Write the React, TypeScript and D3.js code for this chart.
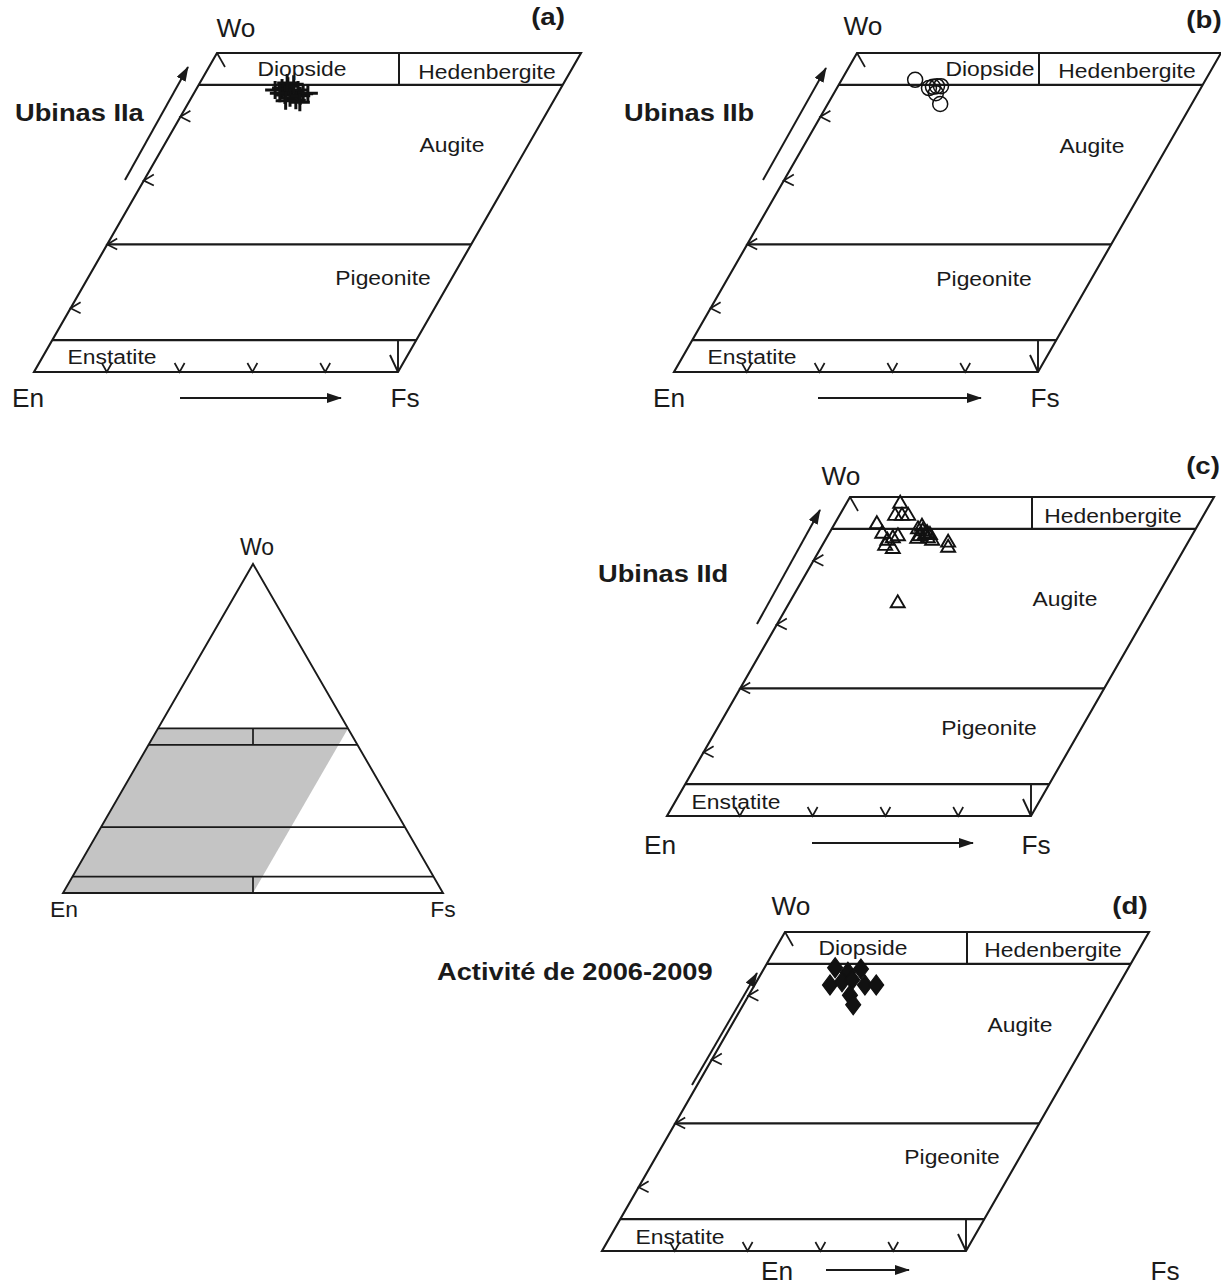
import * as d3 from "d3";
import React, { useEffect, useRef } from "react";

// pyroxene analyses: wo = Wo %, fs = Fs / (En + Fs) %
const ubinasIIa = [
  { wo: 44.2, fs: 21.8 }, { wo: 44.5, fs: 23.4 }, { wo: 44.8, fs: 24.7 }, { wo: 43.9, fs: 26.7 },
  { wo: 44.2, fs: 28.1 }, { wo: 43.6, fs: 30.1 }, { wo: 43.4, fs: 25.3 }, { wo: 43.0, fs: 27.1 },
  { wo: 42.6, fs: 29.1 }, { wo: 43.3, fs: 29.6 }, { wo: 43.7, fs: 31.3 }, { wo: 43.7, fs: 23.6 },
  { wo: 45.1, fs: 26.0 }, { wo: 42.3, fs: 30.5 }, { wo: 45.3, fs: 24.0 }, { wo: 42.5, fs: 26.4 },
];
const ubinasIIb = [
  { wo: 45.8, fs: 20.2 }, { wo: 44.5, fs: 25.3 }, { wo: 44.7, fs: 26.2 }, { wo: 44.8, fs: 27.2 },
  { wo: 44.8, fs: 28.3 }, { wo: 43.7, fs: 28.0 }, { wo: 42.0, fs: 30.9 },
];
const ubinasIId = [
  { wo: 49.1, fs: 14.7 }, { wo: 47.2, fs: 15.2 }, { wo: 47.2, fs: 17.1 }, { wo: 47.2, fs: 18.8 },
  { wo: 45.9, fs: 11.5 }, { wo: 44.4, fs: 14.5 }, { wo: 43.3, fs: 17.0 }, { wo: 43.7, fs: 18.1 },
  { wo: 44.0, fs: 19.2 }, { wo: 42.0, fs: 19.8 }, { wo: 42.5, fs: 17.2 }, { wo: 45.1, fs: 23.6 },
  { wo: 44.8, fs: 25.2 }, { wo: 44.5, fs: 26.7 }, { wo: 44.0, fs: 25.2 }, { wo: 43.7, fs: 27.7 },
  { wo: 43.3, fs: 29.3 }, { wo: 43.6, fs: 24.9 }, { wo: 43.0, fs: 34.0 }, { wo: 42.2, fs: 34.8 },
  { wo: 33.5, fs: 29.7 }, { wo: 45.5, fs: 24.3 }, { wo: 44.2, fs: 26.4 }, { wo: 44.2, fs: 27.8 },
];
const activite2006 = [
  { wo: 44.4, fs: 19.4 }, { wo: 43.7, fs: 23.6 }, { wo: 44.2, fs: 26.7 }, { wo: 41.7, fs: 20.7 },
  { wo: 42.2, fs: 23.5 }, { wo: 42.5, fs: 26.0 }, { wo: 41.7, fs: 30.3 }, { wo: 41.7, fs: 33.4 },
  { wo: 40.1, fs: 27.8 }, { wo: 38.6, fs: 30.2 },
];

// field boundaries (Wo %) and tick positions
const fieldBounds = [5, 20, 45];
const woTicks = [10, 20, 30, 40];
const fsTicks = [20, 40, 60, 80];
const triBounds = [50, 45, 20, 5];

const FONT = "'Liberation Sans', Arial, Helvetica, sans-serif";
const INK = "#1a1a1a";

const panels = [
  {
    en: [34, 372], data: ubinasIIa, marker: "cross", letter: "(a)", title: "Ubinas IIa",
    titlePos: [15, 113], letterPos: [548, 17], woPos: [236, 28], enPos: [28, 398], fsPos: [405, 398],
    arrowUp: [[125, 180], [188, 67]], arrowRight: [[180, 398], [341, 398]],
    labels: [["Diopside", 302, 69], ["Hedenbergite", 487, 72], ["Augite", 452, 145], ["Pigeonite", 383, 278], ["Enstatite", 112, 357]],
  },
  {
    en: [674, 372], data: ubinasIIb, marker: "circle", letter: "(b)", title: "Ubinas IIb",
    titlePos: [624, 113], letterPos: [1204, 20], woPos: [863, 26], enPos: [669, 398], fsPos: [1045, 398],
    arrowUp: [[763, 180], [826, 68]], arrowRight: [[818, 398], [981, 398]],
    labels: [["Diopside", 990, 69], ["Hedenbergite", 1127, 71], ["Augite", 1092, 146], ["Pigeonite", 984, 279], ["Enstatite", 752, 357]],
  },
  {
    en: [667, 816], data: ubinasIId, marker: "triangle", letter: "(c)", title: "Ubinas IId",
    titlePos: [598, 574], letterPos: [1203, 466], woPos: [841, 476], enPos: [660, 845], fsPos: [1036, 845],
    arrowUp: [[757, 624], [820, 510]], arrowRight: [[812, 843], [973, 843]],
    labels: [["Hedenbergite", 1113, 516], ["Augite", 1065, 599], ["Pigeonite", 989, 728], ["Enstatite", 736, 802]],
  },
  {
    en: [602, 1251], data: activite2006, marker: "diamond", letter: "(d)", title: "Activité de 2006-2009",
    titlePos: [437, 972], letterPos: [1130, 906], woPos: [791, 906], enPos: [777, 1271], fsPos: [1165, 1271],
    arrowUp: [[692, 1085], [757, 973]], arrowRight: [[826, 1270], [909, 1270]],
    labels: [["Diopside", 863, 948], ["Hedenbergite", 1053, 950], ["Augite", 1020, 1025], ["Pigeonite", 952, 1157], ["Enstatite", 680, 1237]],
  },
];

// quadrilateral drawn as a 60° parallelogram
const fsScale = d3.scaleLinear().domain([0, 100]).range([0, 364]);
const woScale = d3.scaleLinear().domain([0, 50]).range([0, -319]);
const shear = d3.scaleLinear().domain([0, 50]).range([0, 183]);
const proj = (fs: number, wo: number): [number, number] => [fsScale(fs) + shear(wo), woScale(wo)];

function addText(g: any, str: string, x: number, y: number, size: number, opt: any = {}) {
  g.append("text")
    .attr("transform", `translate(${x},${y}) scale(${opt.sx ?? 1},1)`)
    .attr("text-anchor", opt.anchor ?? "middle")
    .attr("dominant-baseline", "central")
    .attr("fill", INK)
    .style("font-family", FONT)
    .style("font-size", `${size}px`)
    .style("font-weight", opt.bold ? "bold" : "normal")
    .text(str);
}

function drawPanel(svg: any, p: any) {
  const g = svg.append("g").attr("transform", `translate(${p.en[0]},${p.en[1]})`);
  const line = d3.line();

  // outline and field boundaries
  const corners = [proj(0, 0), proj(100, 0), proj(100, 50), proj(0, 50)];
  g.append("path").attr("d", line(corners) + "Z").attr("fill", "none").attr("stroke", INK).attr("stroke-width", 2.1);
  g.selectAll(".bound").data(fieldBounds).join("path")
    .attr("d", (wo: number) => line([proj(0, wo), proj(100, wo)]))
    .attr("fill", "none").attr("stroke", INK).attr("stroke-width", 2.1);

  // Di | Hd divider
  const top = proj(50, 50);
  g.append("path").attr("d", line([top, [top[0], woScale(45)]])).attr("stroke", INK).attr("stroke-width", 2);

  // ticks
  g.selectAll(".wt").data(woTicks).join("path")
    .attr("d", (wo: number) => { const [x, y] = proj(0, wo); return `M${x + 10},${y - 6}L${x},${y}L${x + 10},${y + 5}`; })
    .attr("fill", "none").attr("stroke", INK).attr("stroke-width", 1.7);
  g.selectAll(".ft").data(fsTicks).join("path")
    .attr("d", (fs: number) => { const [x, y] = proj(fs, 0); return `M${x - 5},${y - 9}L${x},${y}L${x + 5},${y - 9}`; })
    .attr("fill", "none").attr("stroke", INK).attr("stroke-width", 1.7);
  const [cx, cy] = proj(0, 50);
  g.append("path").attr("d", `M${cx},${cy}L${cx + 8},${cy + 14}`).attr("stroke", INK).attr("stroke-width", 1.7);
  const [fx, fy] = proj(100, 0);
  g.append("path").attr("d", `M${fx},${woScale(5)}L${fx},${fy}M${fx - 8},${fy - 17}L${fx},${fy}`)
    .attr("fill", "none").attr("stroke", INK).attr("stroke-width", 1.9);

  // data
  const pts = g.append("g");
  const sel = pts.selectAll("path").data(p.data).join("path")
    .attr("transform", (d: any) => `translate(${proj(d.fs, d.wo)})`);
  if (p.marker === "cross") {
    sel.attr("d", "M-10,0H10M0,-9V9").attr("stroke", "#111").attr("stroke-width", 3).attr("fill", "none");
  } else if (p.marker === "circle") {
    sel.attr("d", d3.arc()({ innerRadius: 0, outerRadius: 7.5, startAngle: 0, endAngle: 2 * Math.PI } as any))
      .attr("fill", "none").attr("stroke", "#111").attr("stroke-width", 1.5);
  } else if (p.marker === "triangle") {
    sel.attr("d", "M0,-7L7,5L-7,5Z").attr("fill", "none").attr("stroke", "#111").attr("stroke-width", 1.9);
  } else {
    sel.attr("d", "M0,-10L7.5,0L0,10L-7.5,0Z").attr("fill", "#111").attr("stroke", "#111").attr("stroke-width", 1.2);
  }

  // arrows
  svg.append("path").attr("d", line(p.arrowUp)).attr("stroke", INK).attr("stroke-width", 2).attr("marker-end", "url(#arr)");
  svg.append("path").attr("d", line(p.arrowRight)).attr("stroke", INK).attr("stroke-width", 2).attr("marker-end", "url(#arr)");

  // labels
  p.labels.forEach(([t, x, y]: any) => addText(svg, t, x, y, 21, { sx: 1.09 }));
  addText(svg, "Wo", p.woPos[0], p.woPos[1], 25, { sx: 1.05 });
  addText(svg, "En", p.enPos[0], p.enPos[1], 25, { sx: 1.05 });
  addText(svg, "Fs", p.fsPos[0], p.fsPos[1], 25, { sx: 1.05 });
  addText(svg, p.letter, p.letterPos[0], p.letterPos[1], 24, { sx: 1.15, bold: true });
  addText(svg, p.title, p.titlePos[0], p.titlePos[1], 23.5, { sx: 1.16, bold: true, anchor: "start" });
}

function drawIndex(svg: any) {
  const side = 380;
  const h = side * Math.sqrt(3) / 2;
  const g = svg.append("g").attr("transform", "translate(63,893)");
  const tri = (fs: number, wo: number): [number, number] => [((fs + wo / 2) / 100) * side, -(wo / 100) * h];
  const line = d3.line();

  // shaded pyroxene quadrilateral
  g.append("path").attr("d", line([tri(0, 0), tri(50, 0), tri(50, 50), tri(0, 50)]) + "Z").attr("fill", "#c4c4c4");
  g.append("path").attr("d", line([tri(0, 0), tri(100, 0), tri(0, 100)]) + "Z")
    .attr("fill", "none").attr("stroke", INK).attr("stroke-width", 1.9);
  g.selectAll(".tb").data(triBounds).join("path")
    .attr("d", (wo: number) => line([tri(0, wo), tri(100 - wo, wo)]))
    .attr("stroke", INK).attr("stroke-width", 1.7);
  const mx = tri(50, 0)[0];
  g.append("path").attr("d", `M${mx},${tri(0, 50)[1]}V${tri(0, 45)[1]}M${mx},${tri(0, 5)[1]}V0`)
    .attr("stroke", INK).attr("stroke-width", 1.7);

  addText(svg, "Wo", 257, 547, 23);
  addText(svg, "En", 64, 910, 22, { sx: 1.04 });
  addText(svg, "Fs", 443, 910, 22, { sx: 1.04 });
}

export default function App() {
  const ref = useRef<SVGSVGElement>(null);

  useEffect(() => {
    const svg = d3.select(ref.current);
    svg.selectAll("*").remove();
    svg.append("defs").append("marker")
      .attr("id", "arr").attr("markerUnits", "userSpaceOnUse")
      .attr("markerWidth", 16).attr("markerHeight", 12)
      .attr("refX", 14).attr("refY", 5).attr("orient", "auto")
      .append("path").attr("d", "M0,0L15,5L0,10Z").attr("fill", INK);
    svg.append("rect").attr("width", 1221).attr("height", 1286).attr("fill", "#fff");
    panels.forEach(p => drawPanel(svg, p));
    drawIndex(svg);
  }, []);

  return (
    <svg ref={ref} width={1221} height={1286} style={{ position: "absolute", left: 0, top: 0 }} />
  );
}
